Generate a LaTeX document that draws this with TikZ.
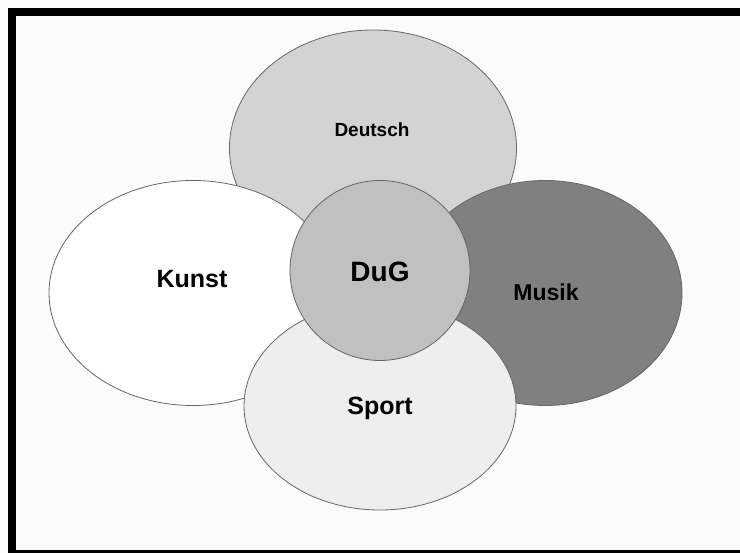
\documentclass[tikz,border=0pt]{standalone}
\usepackage{fontspec}
\setmainfont{Liberation Sans}
\usetikzlibrary{shapes.geometric,positioning}

\definecolor{deutschgray}{HTML}{D3D3D3}
\definecolor{musikgray}{HTML}{808080}
\definecolor{sportgray}{HTML}{EEEEEE}
\definecolor{duggray}{HTML}{C0C0C0}
\definecolor{paper}{HTML}{FBFBFB}

\begin{document}
\begin{tikzpicture}[x=1pt,y=-1pt,
  blob/.style={ellipse, draw=black!60, line width=0.8pt, inner sep=0pt},
  word/.style={anchor=base, font=\bfseries\fontsize{#1}{#1}\selectfont}]
\useasboundingbox (0,0) rectangle (740,553);
\clip (0,0) rectangle (740,553);
\fill[paper] (0,0) rectangle (740,553);
\draw[line width=8pt] (12,12) rectangle (760,554);
% the five fields
\node [blob, fill=deutschgray, minimum width=287, minimum height=236] (deutsch) at (373,148) {};
\node [blob, fill=white, minimum width=288, minimum height=225] (kunst) at (193,293) {};
\node [blob, fill=musikgray, minimum width=274, minimum height=225] (musik) at (545,293) {};
\node [blob, fill=sportgray, minimum width=272, minimum height=208] (sport) at (380,406) {};
\node [blob, fill=duggray, minimum width=180, minimum height=180] (dug) at (380,270.5) {};
% labels
\node [word=19] (deutschtext) at (372,136.5) {Deutsch};
\node [word=25] (kunsttext) at (192,288) {Kunst};
\node [word=23] (musiktext) at (546,300.5) {Musik};
\node [word=25] (sporttext) at (380,415) {Sport};
\node [word=28] (dugtext) at (380,281.5) {DuG};
\end{tikzpicture}
\end{document}
